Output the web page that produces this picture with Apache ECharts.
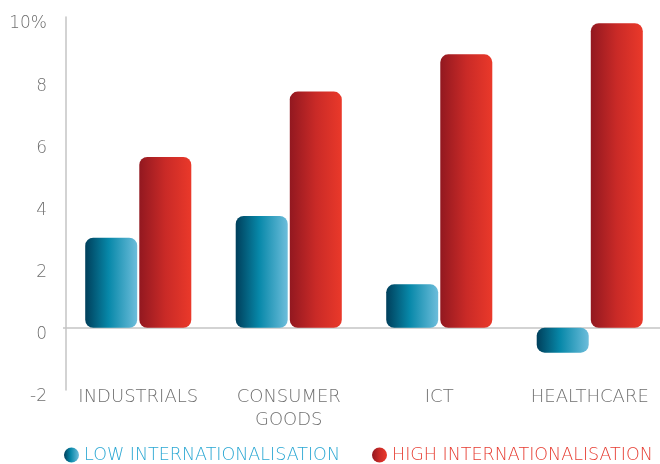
<!DOCTYPE html>
<html>
<head>
<meta charset="utf-8">
<script src="https://cdn.jsdelivr.net/npm/echarts@6/dist/echarts.min.js"></script>
<style>
  html, body { margin: 0; padding: 0; background: #ffffff; overflow: hidden; }
  #chart { width: 680px; height: 464px; }
</style>
</head>
<body>
<div id="chart"></div>
<script>
// Sectors on the horizontal axis
const categories = ['INDUSTRIALS', 'CONSUMER\nGOODS', 'ICT', 'HEALTHCARE'];
// Growth (%) for low vs. high internationalisation
const lowValues = [2.9, 3.6, 1.4, -0.8];
const highValues = [5.5, 7.6, 8.8, 9.8];
const seriesNames = ['LOW INTERNATIONALISATION', 'HIGH INTERNATIONALISATION'];
// Value axis range and step
const yMin = -2, yMax = 10, yStep = 2;

const FONT = 'DejaVu Sans';
const GREY = '#6f6f6f';
const AXIS = '#c4c4c4';

const blueFill = new echarts.graphic.LinearGradient(0, 0, 1, 0, [
  { offset: 0, color: '#003f5b' },
  { offset: 0.45, color: '#0788a9' },
  { offset: 1, color: '#6dbddb' }
]);
const redFill = new echarts.graphic.LinearGradient(0, 0, 1, 0, [
  { offset: 0, color: '#921820' },
  { offset: 0.5, color: '#c92a27' },
  { offset: 1, color: '#ea392a' }
]);

const chart = echarts.init(document.getElementById('chart'), null, { renderer: 'canvas' });

chart.setOption({
  animation: false,
  backgroundColor: '#ffffff',
  grid: { left: 63, top: 17, width: 602, height: 373, containLabel: false },
  legend: {
    left: 59,
    top: 441,
    icon: 'circle',
    itemWidth: 15,
    itemHeight: 15,
    itemGap: 32,
    textStyle: { fontFamily: FONT, fontSize: 17.5, fontWeight: 200 },
    data: [
      { name: seriesNames[0], textStyle: { color: '#2aa7d3' } },
      { name: seriesNames[1], textStyle: { color: '#e63b30' } }
    ]
  },
  xAxis: {
    type: 'category',
    data: categories,
    axisLine: { show: false, onZero: false },
    axisTick: { show: false },
    axisLabel: {
      color: GREY,
      fontFamily: FONT,
      fontSize: 18,
      fontWeight: 200,
      lineHeight: 23,
      margin: -4,
      interval: 0
    }
  },
  yAxis: {
    type: 'value',
    min: yMin,
    max: yMax,
    interval: yStep,
    offset: -3,
    axisLine: { show: true, lineStyle: { color: AXIS, width: 1.5 } },
    axisTick: { show: false },
    axisLabel: {
      color: GREY,
      fontFamily: FONT,
      fontSize: 17,
      fontWeight: 200,
      margin: 19,
      verticalAlign: 'top',
      lineHeight: 10,
      padding: [2, 0, 0, 0],
      formatter: v => (v === yMax ? v + '%' : String(v))
    },
    // only the zero line is drawn across the plot
    splitLine: {
      show: true,
      lineStyle: {
        width: 1.5,
        color: ['transparent', AXIS, 'transparent', 'transparent', 'transparent', 'transparent', 'transparent']
      }
    }
  },
  series: [
    {
      name: seriesNames[0],
      type: 'bar',
      data: lowValues,
      barWidth: 52,
      barGap: '4%',
      itemStyle: { color: blueFill, borderRadius: 8 }
    },
    {
      name: seriesNames[1],
      type: 'bar',
      data: highValues,
      barWidth: 52,
      itemStyle: { color: redFill, borderRadius: 8 }
    }
  ]
});
</script>
</body>
</html>
